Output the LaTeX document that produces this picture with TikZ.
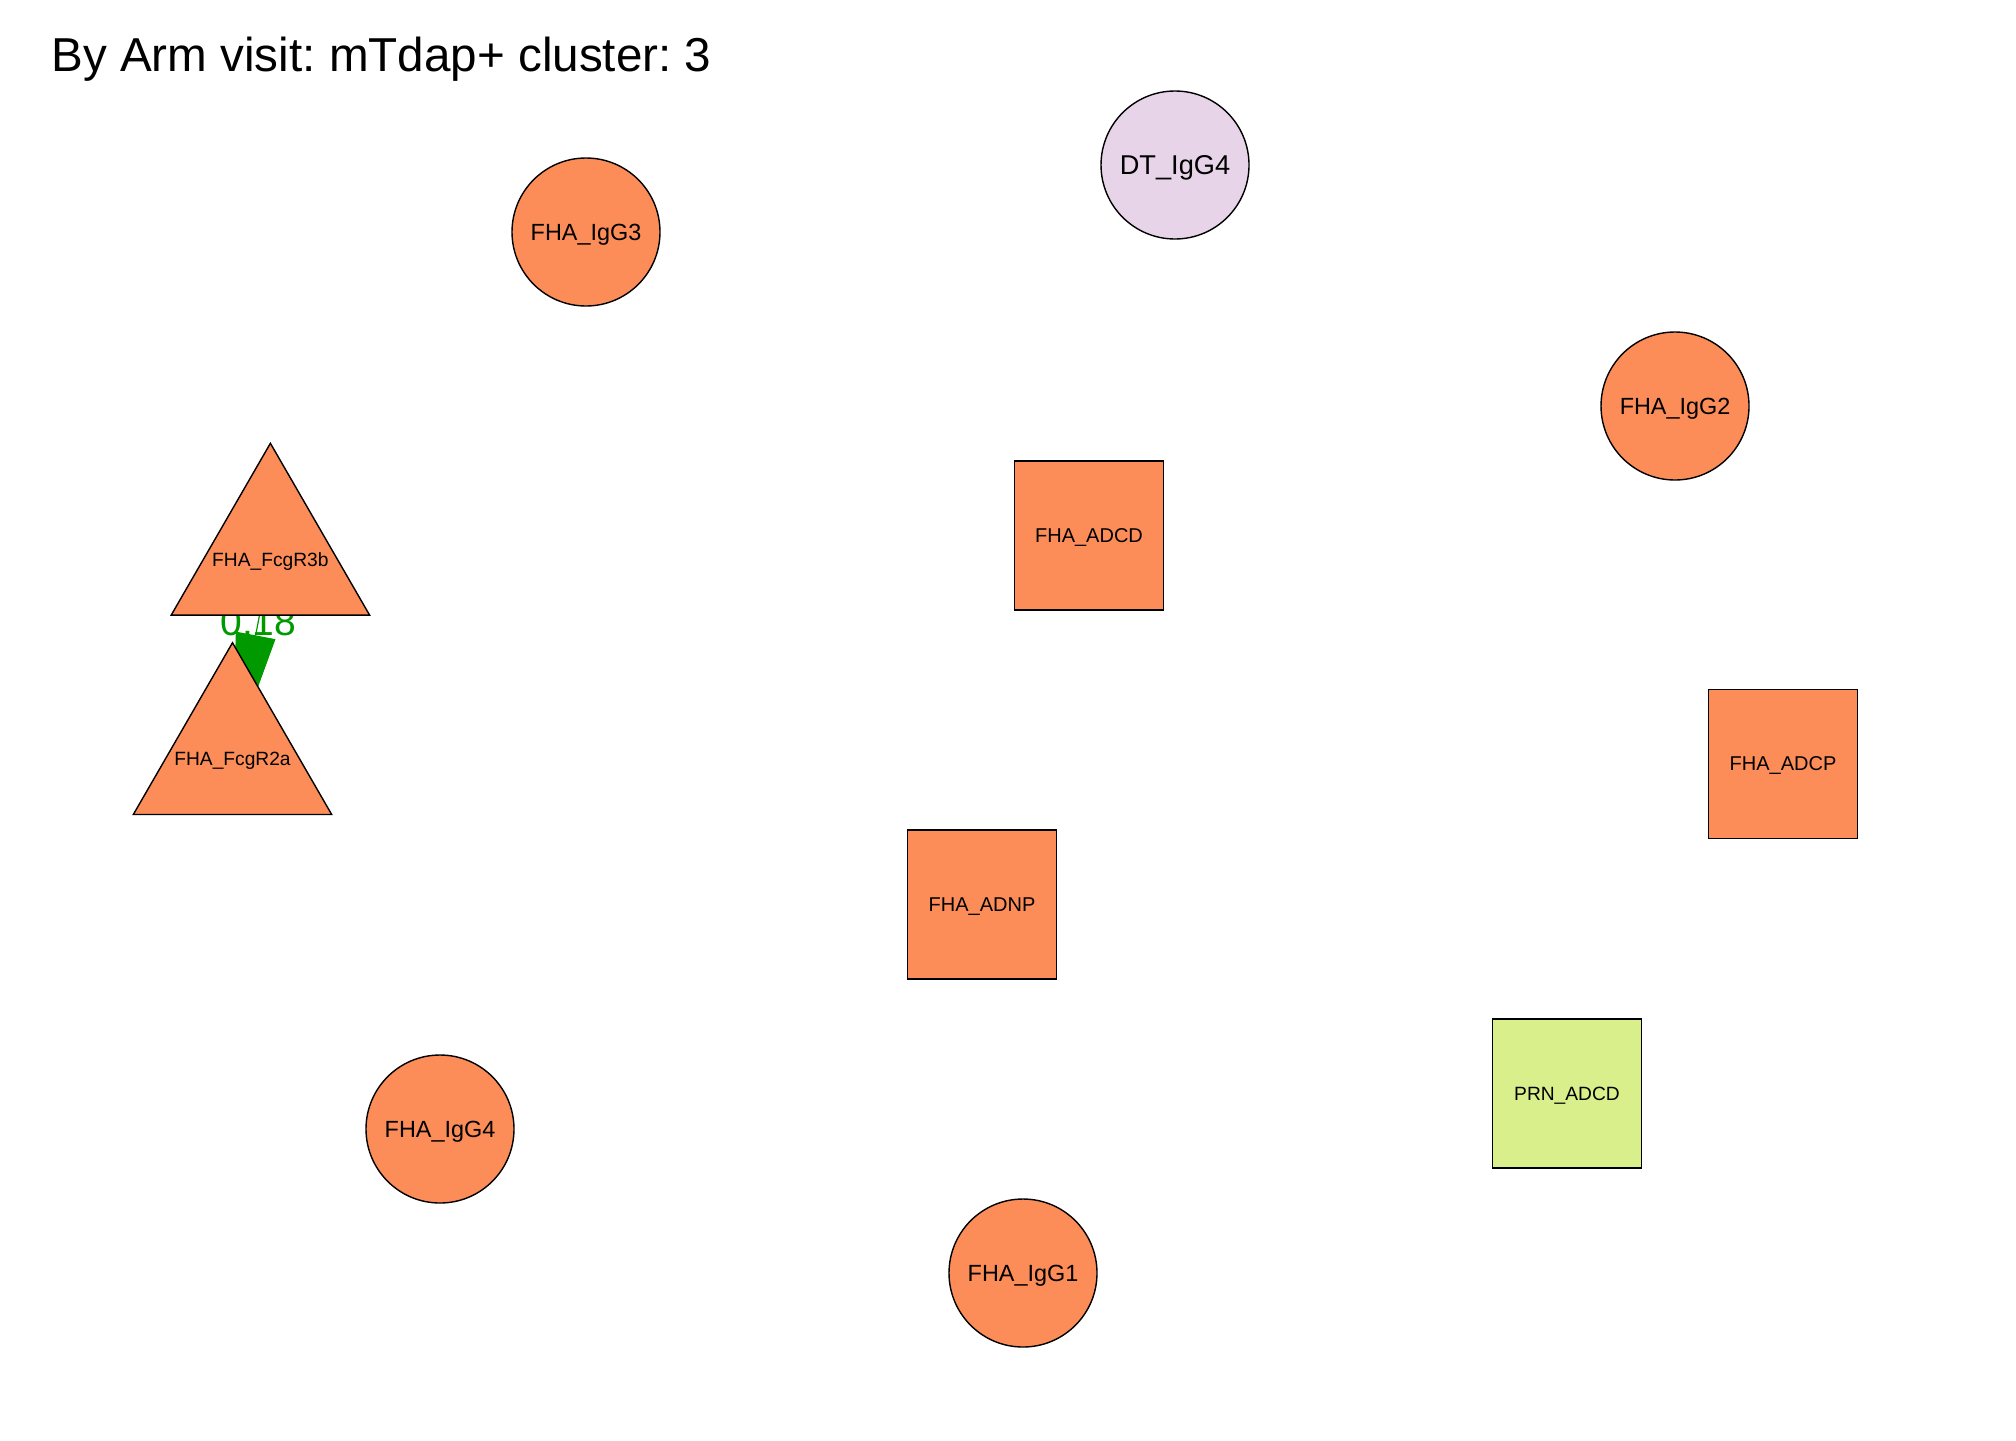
\documentclass[tikz,border=0pt]{standalone}
\usepackage{fontspec}
\setmainfont{Liberation Sans}
\frenchspacing
\usetikzlibrary{shapes.geometric,arrows.meta,backgrounds}
\definecolor{nodeorange}{HTML}{FC8D59}
\definecolor{nodelilac}{HTML}{E7D4E8}
\definecolor{nodelime}{HTML}{D9EF8B}
\definecolor{edgegreen}{RGB}{0,153,0}
\tikzset{
  vcircle/.style={circle,draw=black,line width=0.7pt,fill=nodeorange,inner sep=0pt,minimum size=74pt,
    text depth=0pt,font=\fontsize{11.7}{13}\selectfont},
  vsquare/.style={rectangle,draw=black,line width=0.7pt,fill=nodeorange,inner sep=0pt,minimum width=74.5pt,
    minimum height=74.5pt,text depth=0pt,font=\fontsize{10}{12}\selectfont},
  vtriangle/.style={regular polygon,regular polygon sides=3,draw=black,line width=0.7pt,fill=nodeorange,
    inner sep=0pt,minimum size=114.5pt},
  trilabel/.style={font=\fontsize{9.6}{11}\selectfont,inner sep=0pt,text depth=0pt,yshift=-1pt},
  corredge/.style={draw=edgegreen,line width=0.6pt,
    -{Triangle[length=62pt,width=20pt]}},
}
\begin{document}
\begin{tikzpicture}[x=0.5pt,y=-0.5pt]
      \useasboundingbox (0,0) rectangle (2016,1440);
      % Title
      \node[anchor=base west,inner sep=0pt,font=\fontsize{23.8}{28}\selectfont] (title) at (51,71) {By Arm visit: mTdap+ cluster: 3};
      % Drawing vertices
      \node[vcircle] (FHA_IgG3) at (586,232) {FHA\_IgG3};
      \node[vcircle,fill=nodelilac,font=\fontsize{13.6}{15}\selectfont] (DT_IgG4) at (1175,165) {DT\_IgG4};
      \node[vcircle] (FHA_IgG2) at (1675,406) {FHA\_IgG2};
      \node[vsquare] (FHA_ADCD) at (1089,535.5) {FHA\_ADCD};
      \node[vsquare] (FHA_ADCP) at (1783,764) {FHA\_ADCP};
      \node[vsquare] (FHA_ADNP) at (982,904.5) {FHA\_ADNP};
      \node[vsquare,fill=nodelime,font=\fontsize{9.6}{11}\selectfont] (PRN_ADCD) at (1567,1093.5) {PRN\_ADCD};
      \node[vcircle] (FHA_IgG4) at (440,1129) {FHA\_IgG4};
      \node[vcircle] (FHA_IgG1) at (1023,1273) {FHA\_IgG1};
      \node[vtriangle,label={[trilabel]center:FHA\_FcgR3b}] (FHA_FcgR3b) at (270.4,557.8) {};
      \node[vtriangle,label={[trilabel]center:FHA\_FcgR2a}] (FHA_FcgR2a) at (232.5,757.2) {};
      % Done with vertices; drawing edges below them
      \begin{pgfonlayer}{background}
        \fill[white] (0,0) rectangle (2016,1440);
        \draw[corredge] (FHA_FcgR3b.center) -- (FHA_FcgR2a.center)
          node[pos=0.32,text=edgegreen,font=\fontsize{19.5}{22}\selectfont] (w_R3b_R2a) {0.18};
      \end{pgfonlayer}
      % Done with edges
    \end{tikzpicture}
\end{document}
